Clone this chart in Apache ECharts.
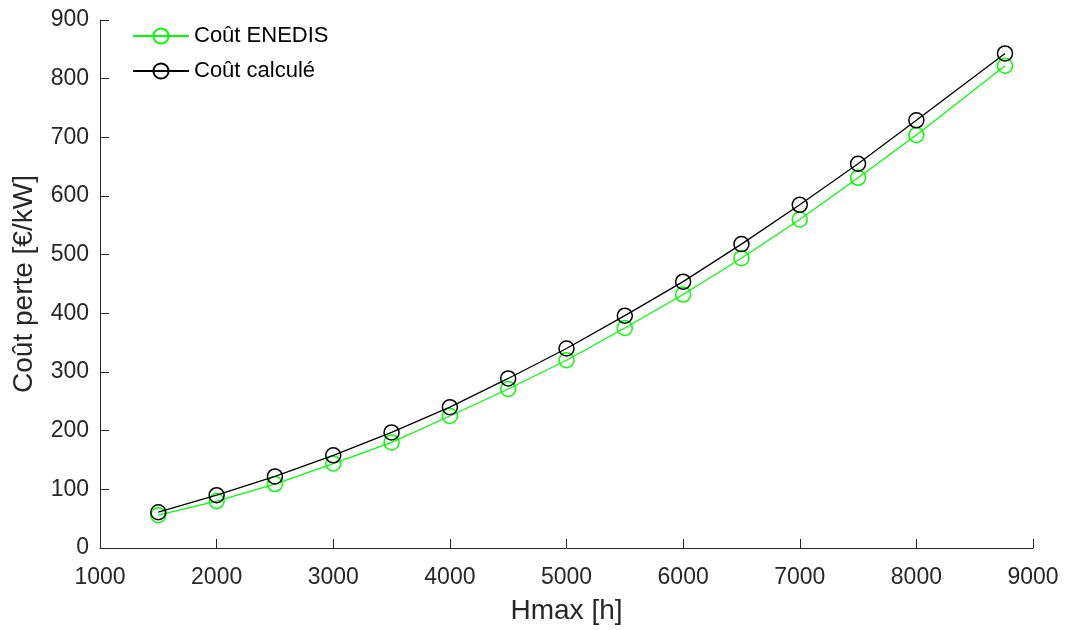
<!DOCTYPE html>
<html>
<head>
<meta charset="utf-8">
<script src="https://cdn.jsdelivr.net/npm/echarts@6/dist/echarts.min.js"></script>
<style>html,body{margin:0;padding:0;background:#fff;}#c{width:1066px;height:630px;}</style>
</head>
<body>
<div id="c"></div>
<script>
const hmax = [1500, 2000, 2500, 3000, 3500, 4000, 4500, 5000, 5500, 6000, 6500, 7000, 7500, 8000, 8760];
const coutEnedis = [56, 80, 109, 144, 180, 225, 271, 320, 375, 432, 494, 560, 631, 704, 822];
const coutCalcule = [61, 90, 122, 158, 197, 240, 289, 340, 396, 454, 518, 585, 655, 729, 843];
const xTicks = [1000, 2000, 3000, 4000, 5000, 6000, 7000, 8000, 9000];
const yTicks = [0, 100, 200, 300, 400, 500, 600, 700, 800, 900];

const font = 'Liberation Sans, Arial, Helvetica, sans-serif';
const axisCol = '#262626';
const chart = echarts.init(document.getElementById('c'));
function pts(xs, ys){ return xs.map((x,i)=>[x, ys[i]]); }
chart.setOption({
  animation: false,
  backgroundColor: '#fff',
  grid: {left: 100, right: 33, top: 20, bottom: 82, containLabel: false},
  legend: {
    orient: 'vertical', left: 127, top: 20, itemWidth: 56, itemHeight: 19, itemGap: 13,
    textStyle: {fontFamily: font, fontSize: 22, color: '#000'},
    data: ['Coût ENEDIS', 'Coût calculé']
  },
  xAxis: {
    type: 'value', min: xTicks[0], max: xTicks[xTicks.length-1], interval: 1000,
    name: 'Hmax [h]', nameLocation: 'middle', nameGap: 49,
    nameTextStyle: {fontFamily: font, fontSize: 28, color: axisCol},
    axisLine: {show: true, lineStyle: {color: axisCol, width: 1}},
    axisTick: {show: true, inside: true, length: 9, lineStyle: {color: axisCol}},
    axisLabel: {fontFamily: font, fontSize: 23, color: axisCol, margin: 18, formatter: v => String(v)},
    splitLine: {show: false}
  },
  yAxis: {
    type: 'value', min: yTicks[0], max: yTicks[yTicks.length-1], interval: 100,
    name: 'Coût perte [€/kW]', nameLocation: 'middle', nameGap: 62, nameRotate: 90,
    nameTextStyle: {fontFamily: font, fontSize: 28, color: axisCol},
    axisLine: {show: true, lineStyle: {color: axisCol, width: 1}},
    axisTick: {show: true, inside: true, length: 9, lineStyle: {color: axisCol}},
    axisLabel: {fontFamily: font, fontSize: 23, color: axisCol, margin: 11, formatter: v => String(v)},
    splitLine: {show: false}
  },
  series: [
    {
      name: 'Coût ENEDIS', type: 'line', data: pts(hmax, coutEnedis),
      symbol: 'circle', symbolSize: 15, showAllSymbol: true,
      lineStyle: {color: '#00ff00', width: 1.3},
      itemStyle: {color: 'rgba(0,0,0,0)', borderColor: '#00ff00', borderWidth: 1.5},
      z: 2
    },
    {
      name: 'Coût calculé', type: 'line', data: pts(hmax, coutCalcule),
      symbol: 'circle', symbolSize: 15, showAllSymbol: true,
      lineStyle: {color: '#000000', width: 1.3},
      itemStyle: {color: 'rgba(0,0,0,0)', borderColor: '#000000', borderWidth: 1.5},
      z: 3
    }
  ]
});
</script>
</body>
</html>
